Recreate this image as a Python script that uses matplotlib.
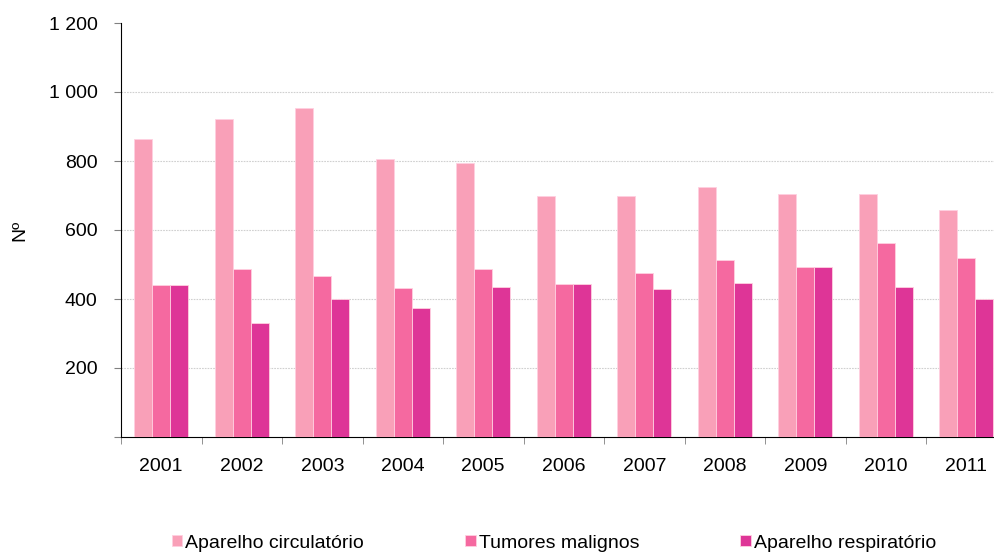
import matplotlib
matplotlib.use("Agg")
import matplotlib.pyplot as plt
import numpy as np
from matplotlib.ticker import FuncFormatter

plt.rcParams['font.family'] = ['Liberation Sans', 'DejaVu Sans']

anos = ['2001', '2002', '2003', '2004', '2005', '2006', '2007', '2008', '2009', '2010', '2011']
circulatorio = [863, 922, 954, 807, 794, 698, 698, 726, 703, 705, 657]
tumores = [440, 488, 468, 433, 488, 444, 475, 514, 493, 562, 520]
respiratorio = [442, 330, 401, 373, 436, 444, 429, 445, 493, 434, 401]

series = [
    ('Aparelho circulatório', circulatorio, '#F9A0B8'),
    ('Tumores malignos', tumores, '#F569A0'),
    ('Aparelho respiratório', respiratorio, '#DE3597'),
]

fig = plt.figure(figsize=(9.94, 5.52), dpi=100)
ax = fig.add_axes([121/994, 115/552, 885.5/994, 414/552])

x = np.arange(len(anos))
w = 0.223
for i, (nome, vals, cor) in enumerate(series):
    ax.bar(x + (i - 1) * w, vals, w, color=cor, edgecolor='#FFD0E0', linewidth=0.6,
           label=nome, zorder=3)

ax.set_xlim(-0.5, len(anos) - 0.5)
ax.set_ylim(0, 1200)
ax.set_yticks(range(0, 1201, 200))
ax.yaxis.set_major_formatter(FuncFormatter(lambda v, p: '' if v == 0 else f'{int(v):,}'.replace(',', ' ')))
for v in range(200, 1001, 200):
    ax.axhline(v, color='#D0D0D0', linestyle=(0, (1.5, 1)), linewidth=0.8, zorder=1)

ax.set_xticks(x)
ax.set_xticklabels(anos)
ax.set_xticks(np.arange(-0.5, len(anos), 1), minor=True)
ax.tick_params(axis='x', which='major', length=0, pad=15, labelsize=14)
ax.tick_params(axis='x', which='minor', length=5, color='#808080', direction='out')
ax.tick_params(axis='y', length=5, color='#808080', pad=12, labelsize=14)

for s in ['top', 'right']:
    ax.spines[s].set_visible(False)
ax.spines['left'].set_color('black')
ax.spines['bottom'].set_color('black')

fig.text(20/994, 1 - 230/552, 'Nº', rotation=90, ha='center', va='center', fontsize=14)

fig.legend(loc='center', bbox_to_anchor=(554/994, 1 - 543/552), ncol=3, frameon=False,
           fontsize=14, handlelength=0.55, handleheight=0.55, handletextpad=0.15,
           columnspacing=5.2, borderaxespad=0)

fig.savefig('out.png', dpi=100)
